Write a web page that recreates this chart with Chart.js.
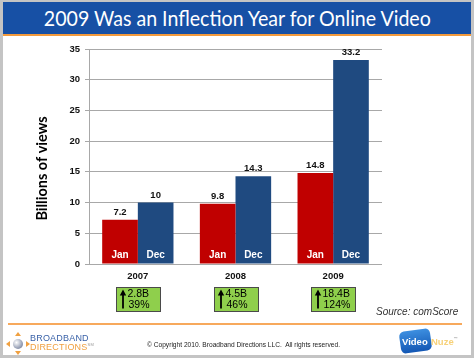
<!DOCTYPE html>
<html><head><meta charset="utf-8">
<script src="https://cdn.jsdelivr.net/npm/chart.js@4/dist/chart.umd.min.js"></script>
<style>
html,body{margin:0;padding:0;background:#fff;}
#wrap{position:relative;width:474px;height:358px;background:#c4c4c4;overflow:hidden;font-family:'Liberation Sans',Arial,sans-serif;}
#panel{position:absolute;left:3px;top:2px;width:468px;height:353px;background:#fff;}
#titlebar{position:absolute;left:3px;top:2px;width:468px;height:32px;background:#1750a5;border-bottom:2px solid #f39a3c;}
#title{position:absolute;left:0;top:0;width:468px;height:32px;line-height:32px;text-align:center;color:#fff;white-space:nowrap;}
#title span{display:inline-block;font-family:Lato,'Open Sans',sans-serif;font-size:22px;transform-origin:center center;}
canvas{position:absolute;left:0;top:0;}
#source{position:absolute;left:376px;top:306px;font-style:italic;font-size:10px;color:#333;white-space:nowrap;}
#rule{position:absolute;left:8px;top:323px;width:454px;height:2px;background:#f7a95c;}
#copy{position:absolute;left:147px;top:341px;font-size:7px;color:#222;white-space:nowrap;transform-origin:left center;}
#bd{position:absolute;left:5px;top:331px;width:90px;height:24px;}
#bd .sph{position:absolute;left:8px;top:8px;width:10px;height:10px;border-radius:50%;background:radial-gradient(circle at 35% 35%,#fff,#9aa3b8 60%,#5b6784);}
#bd .t{position:absolute;width:0;height:0;}
#bd .up{left:10px;top:1px;border-left:3px solid transparent;border-right:3px solid transparent;border-bottom:4px solid #f0a040;}
#bd .dn{left:10px;top:20px;border-left:3px solid transparent;border-right:3px solid transparent;border-top:4px solid #f0a040;}
#bd .lf{left:1px;top:10px;border-top:3px solid transparent;border-bottom:3px solid transparent;border-right:4px solid #f0a040;}
#bd .rt{left:21px;top:10px;border-top:3px solid transparent;border-bottom:3px solid transparent;border-left:4px solid #f0a040;}
#bd .w1{position:absolute;left:25px;top:2px;font-size:9px;color:#3a62a8;letter-spacing:0.2px;}
#bd .w2{position:absolute;left:25px;top:11px;font-size:9px;color:#f0a040;letter-spacing:0.2px;}
#bd .sm{font-size:4px;vertical-align:top;color:#999;}
#vn{position:absolute;left:398px;top:327px;width:60px;height:28px;}
#vn .box{position:absolute;left:2px;top:3px;width:31px;height:22px;border-radius:5px;background:linear-gradient(#3d8fe0,#1357b4);transform:rotate(-8deg);}
#vn .v{position:absolute;left:4px;top:9px;font-size:9.5px;font-weight:bold;color:#fff;}
#vn .n{position:absolute;left:33px;top:9px;font-size:9.5px;font-weight:bold;color:#f7d27a;}
</style></head>
<body>
<div id="wrap">
  <div id="panel"></div>
  <div id="titlebar"><div id="title"><span id="titletext">2009 Was an Inflection Year for Online Video</span></div></div>
  <canvas id="c" width="474" height="358"></canvas>
  <div id="source">Source: comScore</div>
  <div id="rule"></div>
  <div id="bd"><div class="t up"></div><div class="t dn"></div><div class="t lf"></div><div class="t rt"></div><div class="sph"></div>
    <div class="w1">BROADBAND</div><div class="w2">DIRECTIONS<span class="sm">SM</span></div></div>
  <div id="copy">© Copyright 2010. Broadband Directions LLC.&nbsp; All rights reserved.</div>
  <div id="vn"><div class="box"></div><div class="v">Video</div><div class="n">Nuze<span style="font-size:4px;vertical-align:top;color:#999">™</span></div></div>
</div>
<script>
const years = ['2007', '2008', '2009'];
const seriesNames = ['Jan', 'Dec'];
const janViews = [7.2, 9.8, 14.8];
const decViews = [10, 14.3, 33.2];
const growthAbs = ['2.8B', '4.5B', '18.4B'];
const growthPct = ['39%', '46%', '124%'];
const yAxisTitle = 'Billions of views';
const yMin = 0, yMax = 35, yStep = 5;

function fitWidth(el, target) {
  const w = el.getBoundingClientRect().width;
  if (w > 0) el.style.transform = 'scaleX(' + (target / w) + ')';
}
fitWidth(document.getElementById('titletext'), 387);
fitWidth(document.getElementById('copy'), 193);

const annot = {
  id: 'annot',
  afterDatasetsDraw(chart) {
    const ctx = chart.ctx;
    ctx.save();
    chart.data.datasets.forEach((ds, di) => {
      const meta = chart.getDatasetMeta(di);
      meta.data.forEach((bar, i) => {
        ctx.textAlign = 'center';
        ctx.fillStyle = '#111';
        ctx.font = 'bold 9.5px "Liberation Sans", Arial, sans-serif';
        ctx.textBaseline = 'alphabetic';
        ctx.fillText(String(ds.data[i]), bar.x, bar.y - 5);
        ctx.fillStyle = '#fff';
        ctx.font = 'bold 10px "Liberation Sans", Arial, sans-serif';
        ctx.textBaseline = 'middle';
        ctx.fillText(ds.label, bar.x, bar.base - 8);
      });
    });
    ctx.restore();
  },
  afterDraw(chart) {
    const ctx = chart.ctx, area = chart.chartArea, xs = chart.scales.x;
    ctx.save();
    ctx.translate(42, (area.top + area.bottom) / 2 + 12);
    ctx.rotate(-Math.PI / 2);
    ctx.font = 'bold 14.5px Lato, "Open Sans", sans-serif';
    ctx.fillStyle = '#000';
    ctx.textAlign = 'center';
    ctx.textBaseline = 'middle';
    ctx.fillText(yAxisTitle, 0, 0);
    ctx.restore();
    years.forEach((y, i) => {
      const cx = xs.getPixelForValue(i);
      const w = 44, h = 24, left = Math.round(cx - w / 2) + 0.5, top = area.bottom + 23.5;
      ctx.save();
      ctx.fillStyle = '#8fcf4c';
      ctx.strokeStyle = '#4a4a4a';
      ctx.lineWidth = 1;
      ctx.fillRect(left, top, w, h);
      ctx.strokeRect(left, top, w, h);
      const ax = left + 6.5;
      ctx.strokeStyle = '#000';
      ctx.lineWidth = 1.8;
      ctx.beginPath();
      ctx.moveTo(ax, top + h - 3);
      ctx.lineTo(ax, top + 6);
      ctx.stroke();
      ctx.fillStyle = '#000';
      ctx.beginPath();
      ctx.moveTo(ax, top + 2);
      ctx.lineTo(ax - 3.2, top + 8);
      ctx.lineTo(ax + 3.2, top + 8);
      ctx.closePath();
      ctx.fill();
      ctx.font = '10.5px "Liberation Sans", Arial, sans-serif';
      ctx.textAlign = 'left';
      ctx.textBaseline = 'middle';
      ctx.fillText(growthAbs[i], left + 11, top + 7);
      ctx.fillText(growthPct[i], left + 12, top + 17.5);
      ctx.restore();
    });
  }
};

new Chart(document.getElementById('c'), {
  type: 'bar',
  data: {
    labels: years,
    datasets: [
      { label: seriesNames[0], data: janViews, backgroundColor: '#c00000' },
      { label: seriesNames[1], data: decViews, backgroundColor: '#1f4a80' }
    ]
  },
  options: {
    responsive: false,
    animation: false,
    devicePixelRatio: 1,
    layout: { padding: { left: 50, top: 49, right: 92, bottom: 74 } },
    plugins: { legend: { display: false }, tooltip: { enabled: false }, title: { display: false } },
    datasets: { bar: { categoryPercentage: 0.73, barPercentage: 1.0 } },
    scales: {
      x: {
        grid: { display: false, drawTicks: false },
        border: { display: false },
        ticks: { color: '#111', font: { family: '"Liberation Sans", Arial, sans-serif', size: 9.5, weight: 'bold' }, padding: 7 },
        afterFit(axis) { axis.height = 20; }
      },
      y: {
        min: yMin, max: yMax,
        ticks: { stepSize: yStep, color: '#111', font: { family: '"Liberation Sans", Arial, sans-serif', size: 9.5, weight: 'bold' }, padding: 5 },
        grid: { color: '#a8a8a8', lineWidth: 1, tickLength: 4, drawTicks: true },
        border: { display: true, color: '#a8a8a8' },
        afterFit(axis) { axis.width = 39; }
      }
    }
  },
  plugins: [annot]
});
</script>
</body></html>
